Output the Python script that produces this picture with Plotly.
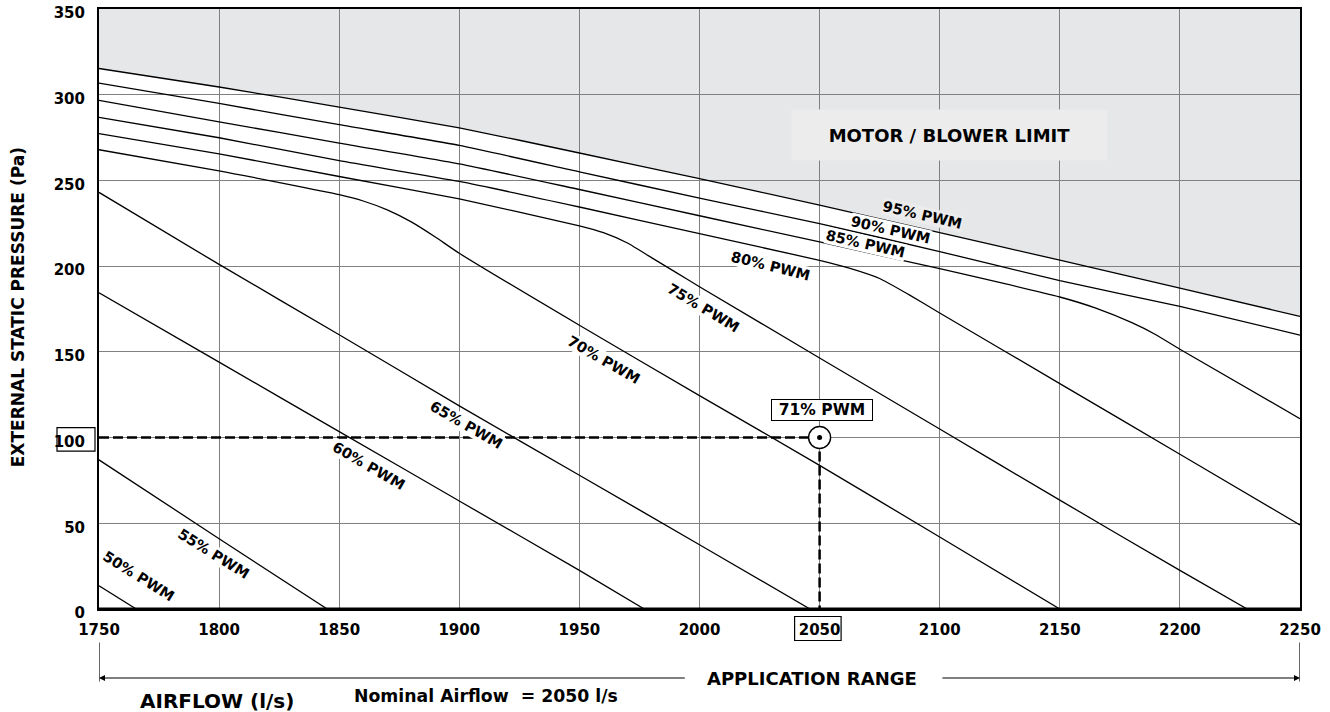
import plotly.graph_objects as go

# Axis ticks
airflow_ticks = [1750, 1800, 1850, 1900, 1950, 2000, 2050, 2100, 2150, 2200, 2250]
pressure_ticks = [0, 50, 100, 150, 200, 250, 300, 350]

# Fan curves: airflow (l/s) vs external static pressure (Pa) at each PWM setting
pwm_95_x = [1750, 1800, 1850, 1900, 1950, 2000, 2050, 2100, 2150, 2200, 2250]
pwm_95_y = [315.3, 304.5, 292.8, 280.7, 266.0, 251.0, 235.6, 219.5, 203.5, 187.2, 170.7]

pwm_90_x = [1750, 1800, 1850, 1900, 1950, 2000, 2050, 2100, 2150, 2200, 2250]
pwm_90_y = [306.8, 294.9, 282.5, 270.4, 255.0, 239.7, 224.8, 208.5, 191.5, 176.5, 159.8]

pwm_85_x = [1750, 1800, 1850, 1900, 1950, 2000, 2050, 2100, 2150, 2165, 2180, 2190, 2200, 2250]
pwm_85_y = [296.7, 284.2, 271.8, 259.7, 244.7, 229.4, 214.1, 198.5, 182.0, 175.5, 167.0, 160.0, 151.5, 111.0]

pwm_80_x = [1750, 1800, 1850, 1900, 1950, 2000, 2050, 2062, 2075, 2087, 2100, 2150, 2200, 2250]
pwm_80_y = [286.8, 274.9, 261.5, 249.4, 234.5, 218.9, 203.4, 199.0, 192.8, 183.5, 172.7, 131.5, 90.3, 49.0]

pwm_75_x = [1750, 1800, 1850, 1900, 1950, 1960, 1970, 1980, 1990, 2000, 2050, 2100, 2150, 2200, 2228]
pwm_75_y = [277.3, 265.5, 252.3, 239.2, 223.5, 219.5, 213.5, 205.0, 196.5, 188.0, 146.4, 105.0, 63.5, 22.5, 0.0]

pwm_70_x = [1750, 1800, 1850, 1860, 1870, 1880, 1890, 1900, 1950, 2000, 2050, 2100, 2150]
pwm_70_y = [267.9, 255.6, 241.7, 238.0, 232.8, 225.8, 217.0, 207.5, 165.5, 124.5, 83.8, 42.0, 0.0]

pwm_65_x = [1750, 1800, 1850, 1900, 1950, 2000, 2046]
pwm_65_y = [243.0, 201.0, 160.0, 118.5, 78.0, 37.5, 0.0]

pwm_60_x = [1750, 1800, 1850, 1900, 1950, 1977]
pwm_60_y = [184.5, 144.0, 103.5, 63.0, 22.5, 0.0]

pwm_55_x = [1750, 1800, 1845]
pwm_55_y = [87.0, 41.0, 0.0]

pwm_50_x = [1750, 1765.5]
pwm_50_y = [13.6, 0.0]

curve_names = ["95% PWM", "90% PWM", "85% PWM", "80% PWM", "75% PWM",
               "70% PWM", "65% PWM", "60% PWM", "55% PWM", "50% PWM"]
curve_x = [pwm_95_x, pwm_90_x, pwm_85_x, pwm_80_x, pwm_75_x,
           pwm_70_x, pwm_65_x, pwm_60_x, pwm_55_x, pwm_50_x]
curve_y = [pwm_95_y, pwm_90_y, pwm_85_y, pwm_80_y, pwm_75_y,
           pwm_70_y, pwm_65_y, pwm_60_y, pwm_55_y, pwm_50_y]

# Selected operating point
nominal_airflow = 2050
design_pressure = 100
operating_label = "71% PWM"

X_MIN, X_MAX = 1750, 2250
Y_MIN, Y_MAX = 0, 350

FONT = "DejaVu Sans"
GRID = "#808080"


def bold(size):
    return dict(family=FONT, size=size, color="black", weight="bold")


fig = go.Figure()

# Shaded motor / blower limit region above the top curve (below the grid)
limit_path = "M " + " L ".join(f"{x},{y}" for x, y in zip(pwm_95_x, pwm_95_y))
limit_path += f" L {X_MAX},{Y_MAX} L {X_MIN},{Y_MAX} Z"
fig.add_shape(type="path", path=limit_path, xref="x", yref="y",
              fillcolor="#e6e7e8", line=dict(width=0), layer="below")

# PWM curves
for name, xs, ys in zip(curve_names, curve_x, curve_y):
    fig.add_trace(go.Scatter(x=xs, y=ys, mode="lines", name=name,
                             line=dict(color="black", width=1.3, shape="spline", smoothing=0.5),
                             hoverinfo="skip"))

# Selection guides through the operating point
fig.add_trace(go.Scatter(x=[X_MIN, nominal_airflow], y=[design_pressure, design_pressure],
                         mode="lines", line=dict(color="black", width=2.5, dash="10px,4px"),
                         hoverinfo="skip"))
fig.add_trace(go.Scatter(x=[nominal_airflow, nominal_airflow], y=[design_pressure, Y_MIN],
                         mode="lines", line=dict(color="black", width=2.5, dash="10px,4px"),
                         hoverinfo="skip"))
fig.add_trace(go.Scatter(x=[nominal_airflow], y=[design_pressure], mode="markers",
                         marker=dict(symbol="circle", size=22, color="white",
                                     line=dict(color="black", width=1.4)),
                         hoverinfo="skip"))
fig.add_trace(go.Scatter(x=[nominal_airflow], y=[design_pressure], mode="markers",
                         marker=dict(symbol="circle", size=5, color="black"),
                         hoverinfo="skip"))

# Curve labels: (x, y, angle, background)
label_place = {
    "95% PWM": (2092.8, 230.0, 13, "#ececec"),
    "90% PWM": (2079.7, 220.8, 13, "white"),
    "85% PWM": (2069.3, 212.9, 13, "white"),
    "80% PWM": (2029.4, 199.8, 14, "white"),
    "75% PWM": (2001.7, 175.6, 31, "white"),
    "70% PWM": (1960.1, 145.0, 30, "white"),
    "65% PWM": (1902.9, 107.5, 30, "white"),
    "60% PWM": (1862.3, 83.2, 30, "white"),
    "55% PWM": (1797.8, 32.0, 32, "white"),
    "50% PWM": (1766.3, 19.0, 32, "white"),
}
for name in curve_names:
    lx, ly, ang, bg = label_place[name]
    fig.add_annotation(x=lx, y=ly, xref="x", yref="y", text=name, showarrow=False,
                       xanchor="center", yanchor="middle",
                       textangle=ang, bgcolor=bg, borderpad=0, font=bold(14.5))

# Operating point label
fig.add_annotation(x=2051.1, y=115.8, xref="x", yref="y", text=operating_label,
                   showarrow=False, xanchor="center", yanchor="middle",
                   bgcolor="white", bordercolor="black", borderwidth=1,
                   borderpad=0, width=100, height=20, font=bold(15.5))

# Limit region title
fig.add_annotation(x=2104.2, y=276.6, xref="x", yref="y", text="MOTOR / BLOWER LIMIT",
                   showarrow=False, xanchor="center", yanchor="middle",
                   bgcolor="#ececed", borderpad=0, width=315, height=50, font=bold(18))

# Boxes around the selected tick values
fig.add_shape(type="rect", xref="x", yref="paper", xsizemode="pixel", ysizemode="pixel",
              xanchor=nominal_airflow, yanchor=0, x0=-25, x1=21.5, y0=-7.5, y1=-31.5,
              line=dict(color="black", width=1.2), fillcolor="rgba(0,0,0,0)")
fig.add_shape(type="rect", xref="paper", yref="y", xsizemode="pixel", ysizemode="pixel",
              xanchor=0, yanchor=design_pressure, x0=-42, x1=-4, y0=-13.5, y1=10,
              line=dict(color="black", width=1.2), fillcolor="rgba(0,0,0,0)")

# Thicker base line
fig.add_shape(type="line", xref="paper", yref="y", x0=0, x1=1, y0=Y_MIN, y1=Y_MIN,
              line=dict(color="black", width=3), layer="above")

# Application range dimension below the axis
dim_y = -0.115
for xv in (X_MIN, X_MAX):
    fig.add_shape(type="line", xref="x", yref="paper", x0=xv, x1=xv, y0=-0.056, y1=-0.121,
                  line=dict(color="black", width=1.2))
fig.add_annotation(x=X_MIN, y=dim_y, xref="x", yref="paper", ax=1994.5, ay=0,
                   axref="x", ayref="pixel", text="", showarrow=True,
                   arrowhead=2, arrowsize=1, arrowwidth=1.2, arrowcolor="black")
fig.add_annotation(x=X_MAX, y=dim_y, xref="x", yref="paper", ax=2100.5, ay=0,
                   axref="x", ayref="pixel", text="", showarrow=True,
                   arrowhead=2, arrowsize=1, arrowwidth=1.2, arrowcolor="black")
fig.add_annotation(x=2047, y=-0.1165, xref="x", yref="paper", text="APPLICATION RANGE",
                   showarrow=False, xanchor="center", yanchor="middle", font=bold(18))
fig.add_annotation(x=1799, y=-0.154, xref="x", yref="paper", text="AIRFLOW (l/s)",
                   showarrow=False, xanchor="center", yanchor="middle", font=bold(20))
fig.add_annotation(x=1911, y=-0.1457, xref="x", yref="paper",
                   text=f"Nominal Airflow  = {nominal_airflow} l/s",
                   showarrow=False, xanchor="center", yanchor="middle", font=bold(17.3))

# Vertical axis title
fig.add_annotation(x=-0.0674, y=0.503, xref="paper", yref="paper",
                   text="EXTERNAL STATIC PRESSURE (Pa)", textangle=-90, showarrow=False,
                   xanchor="center", yanchor="middle", font=bold(17))

fig.update_xaxes(range=[X_MIN, X_MAX], tickmode="array", tickvals=airflow_ticks,
                 ticktext=[str(v) for v in airflow_ticks], showgrid=True, gridcolor=GRID,
                 gridwidth=1, zeroline=False, showline=True, linecolor="black", linewidth=2,
                 mirror=True, ticks="", ticklabelstandoff=6, ticklabeloverflow="allow",
                 automargin=False, tickfont=bold(15))
fig.update_yaxes(range=[Y_MIN, Y_MAX], tickmode="array", tickvals=pressure_ticks,
                 ticktext=[str(v) for v in pressure_ticks], showgrid=True, gridcolor=GRID,
                 gridwidth=1, zeroline=False, showline=True, linecolor="black", linewidth=2,
                 mirror=True, ticks="", ticklabelstandoff=9, ticklabelshift=4,
                 ticklabeloverflow="allow", automargin=False, tickfont=bold(15))

fig.update_layout(width=1330, height=712, autosize=False,
                  margin=dict(l=99, r=30, t=9, b=103, pad=0),
                  plot_bgcolor="white", paper_bgcolor="white", showlegend=False,
                  font=dict(family=FONT, color="black"))

fig.write_html("out.html")
